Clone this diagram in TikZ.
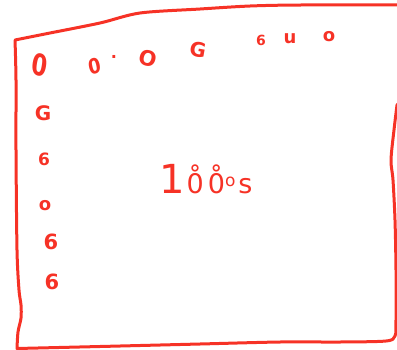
\documentclass[tikz,border=0pt]{standalone}
\usepackage{fontspec}
\newfontfamily\hand{DejaVu Sans}
\definecolor{pen}{RGB}{246,50,38}
\newcommand{\gsz}[1]{\fontsize{#1}{#1}\selectfont}
\begin{document}
\begin{tikzpicture}[x=1pt,y=-1pt,
  frame/.style={draw=pen, line width=3pt, line join=round, line cap=round},
  glyph/.style={text=pen, inner sep=0pt}]
\useasboundingbox (0,0) rectangle (397,349);
% hand-drawn frame
\draw[frame] plot[smooth, tension=0.5] coordinates {(15,40) (50,33) (100,23) (140,13) (200,9) (250,6) (300,5) (402,5)}
  -- (402,100)
  -- plot[smooth, tension=0.5] coordinates {(397,105) (394,130) (391,160) (393,180) (395,220) (396,270) (396,320) (395,336) (386,341) (340,342) (280,342) (200,344) (100,346.5) (17,348.5)}
  -- plot[smooth, tension=0.5] coordinates {(17,348.5) (18,332) (21,318) (21,305) (19,290) (17,250) (16,150) (16,80) (15,40)};
% top row
\node[glyph, font=\hand\bfseries\gsz{30}, xscale=0.75, rotate=-12] (g1) at (40,65) {0};
\node[glyph, font=\hand\bfseries\gsz{21}, xscale=0.85, rotate=15] (g2) at (95,66) {0};
\node[glyph, font=\hand\bfseries\gsz{16}] (d1) at (114,57) {.};
\node[glyph, font=\hand\bfseries\gsz{21}, rotate=-15] (g3) at (148,58) {O};
\node[glyph, font=\hand\bfseries\gsz{20}, rotate=-10] (g4) at (198,50) {G};
\node[glyph, font=\hand\bfseries\gsz{14}] (g5) at (261,40) {6};
\node[glyph, font=\hand\bfseries\gsz{18}] (g6) at (290,39) {u};
\node[glyph, font=\hand\bfseries\gsz{18}] (g7) at (329,37) {o};
% left column
\node[glyph, font=\hand\bfseries\gsz{20}] (g8) at (43,113) {G};
\node[glyph, font=\hand\bfseries\gsz{17}] (g9) at (44,159) {6};
\node[glyph, font=\hand\bfseries\gsz{18}] (g10) at (45,206) {o};
\node[glyph, font=\hand\bfseries\gsz{21}] (g11) at (51,242) {6};
\node[glyph, font=\hand\bfseries\gsz{21}] (g12) at (52,282) {6};
% centre text
\node[glyph, font=\hand\gsz{27}, anchor=base west] (t) at (159,193)
  {{\gsz{40}1}\hspace{2pt}\r{0}\hspace{4pt}\r{0}\raisebox{7pt}{\gsz{17}o}\hspace{3pt}s};
\end{tikzpicture}
\end{document}
